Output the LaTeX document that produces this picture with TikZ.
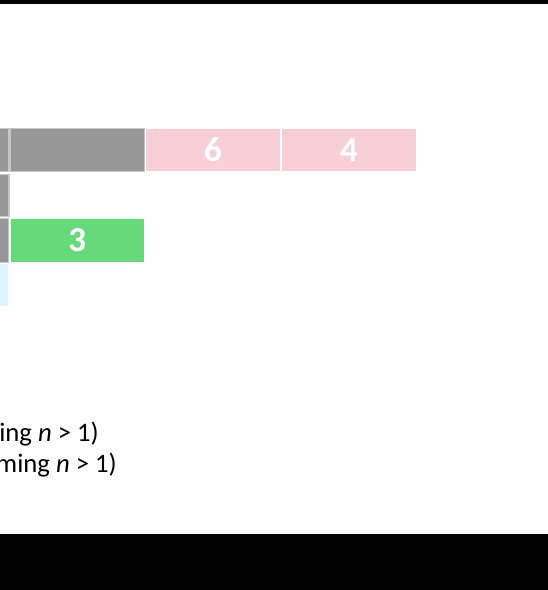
\documentclass[tikz,border=0pt]{standalone}
\usepackage{fontspec}
\setmainfont{Carlito}
\begin{document}
\begin{tikzpicture}[x=1pt,y=-1pt,
  box/.style={draw=white, line width=1.2pt, inner sep=0pt, outer sep=0pt,
    minimum width=134.5pt, minimum height=43.4pt, text=white,
    font=\fontsize{35}{40}\selectfont\bfseries},
  grayb/.style={box, fill=graybox, draw=gray!45},
  pinkb/.style={box, fill=pinkbox},
  greenb/.style={box, fill=greenbox},
  cyanb/.style={box, fill=cyanbox},
  note/.style={anchor=base east, inner sep=0pt, font=\fontsize{26.7}{32}\selectfont}
]
\definecolor{graybox}{RGB}{152,152,152}
\definecolor{pinkbox}{RGB}{246,208,214}
\definecolor{greenbox}{RGB}{102,217,122}
\definecolor{cyanbox}{RGB}{222,245,255}
\useasboundingbox (0,0) rectangle (548,590);
\clip (0,0) rectangle (548,590);
\fill[black] (0,0) rectangle (548,4);
\fill[black] (0,534) rectangle (548,590);
% row 1
\node[grayb] (g1a) at (-58.2,150) {};
\node[grayb] (g1b) at (77.2,150) {};
\node[pinkb] (p1) at (213,150) {6};
\node[pinkb] (p2) at (348.9,150) {4};
% row 2
\node[grayb, minimum height=42.4pt] (g2a) at (-58.2,195.5) {};
% row 3
\node[grayb, minimum height=43.6pt] (g3a) at (-58.2,240.5) {};
\node[greenb, minimum height=43.6pt] (gr3) at (77.2,240.5) {3};
% row 4
\node[cyanb] (c4a) at (-58.2,285) {};
% notes
\node[note] (n1) at (99,441) {ing \textit{n} > 1)};
\node[note] (n2) at (117,472) {ming \textit{n} > 1)};
\end{tikzpicture}
\end{document}
